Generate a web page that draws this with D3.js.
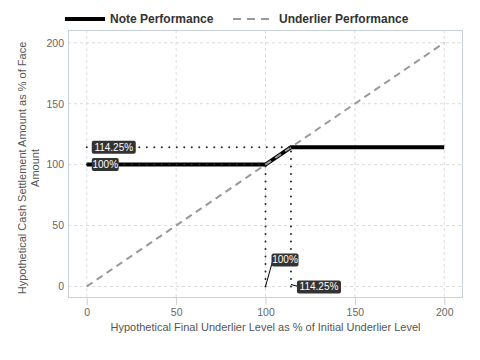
<!DOCTYPE html>
<html><head><meta charset="utf-8">
<script src="https://cdn.jsdelivr.net/npm/d3@7"></script>
<style>body{margin:0;background:#fff}svg{display:block}text{font-family:"Liberation Sans",Arial,sans-serif}</style>
</head><body><svg id="c" width="480" height="360"></svg>
<script>
// Data
const noteX = [0, 100, 114.25, 200];
const noteY = [100, 100, 114.25, 114.25];
const underX = [0, 200];
const underY = [0, 200];
const xTicks = [0, 50, 100, 150, 200];
const yTicks = [0, 50, 100, 150, 200];
const cap = 114.25;
const level = 100;
const seriesNames = ["Note Performance", "Underlier Performance"];

const svg = d3.select("#c");
const L = 68, R = 463, T = 30, B = 298;
const x = d3.scaleLinear().domain([-10.5, 210.5]).range([L, R]);
const y = d3.scaleLinear().domain([-9.5, 210.5]).range([B, T]);

// gridlines
const g = svg.append("g");
g.selectAll(".gx").data(xTicks).enter().append("line")
  .attr("x1", d => x(d)).attr("x2", d => x(d)).attr("y1", T).attr("y2", B)
  .attr("stroke", "#dcdcdc").attr("stroke-dasharray", "3,3").attr("stroke-width", 1);
g.selectAll(".gy").data(yTicks).enter().append("line")
  .attr("y1", d => y(d)).attr("y2", d => y(d)).attr("x1", L).attr("x2", R)
  .attr("stroke", "#dcdcdc").attr("stroke-dasharray", "3,3").attr("stroke-width", 1);

// axes
const xAxis = d3.axisBottom(x).tickValues(xTicks).tickSize(7).tickPadding(4);
const yAxis = d3.axisLeft(y).tickValues(yTicks).tickSize(0).tickPadding(4);
const gx = svg.append("g").attr("transform", `translate(0,${B})`).call(xAxis);
const gy = svg.append("g").attr("transform", `translate(${L},0)`).call(yAxis);
[gx, gy].forEach(a => {
  a.select(".domain").remove();
  a.selectAll("line").attr("stroke", "#c8d0d8");
  a.selectAll("text").attr("fill", "#666").style("font-size", "10.5px");
});

// border
svg.append("rect").attr("x", L + 0.5).attr("y", T + 0.5).attr("width", R - L - 1).attr("height", B - T - 1)
  .attr("fill", "none").attr("stroke", "#c8d0d8");

// Note line
const line = d3.line().x(d => x(d[0])).y(d => y(d[1]));
svg.append("path").datum(noteX.map((v, i) => [v, noteY[i]]))
  .attr("d", line).attr("fill", "none").attr("stroke", "#000").attr("stroke-width", 4);

// Underlier line
svg.append("path").datum(underX.map((v, i) => [v, underY[i]]))
  .attr("d", line).attr("fill", "none").attr("stroke", "#999").attr("stroke-width", 2)
  .attr("stroke-dasharray", "7,5");

// dotted reference lines
const dots = [
  [[0, cap], [cap, cap]],
  [[0, level], [level, level]],
  [[level, 0], [level, level]],
  [[cap, 0], [cap, cap]]
];
dots.forEach(seg => {
  svg.append("path").datum(seg).attr("d", line).attr("fill", "none")
    .attr("stroke", "#1c2a3a").attr("stroke-width", 2).attr("stroke-linecap", "round")
    .attr("stroke-dasharray", "0,7.5");
});

// labels
function label(txt, px, py, w) {
  const grp = svg.append("g");
  grp.append("rect").attr("x", px).attr("y", py).attr("width", w).attr("height", 13)
    .attr("rx", 2).attr("fill", "#333");
  grp.append("text").attr("x", px + w / 2).attr("y", py + 10).attr("text-anchor", "middle")
    .attr("fill", "#fff").style("font-size", "10px").text(txt);
}
// leader lines
svg.append("line").attr("x1", x(level)).attr("y1", y(0)).attr("x2", x(level) + 7).attr("y2", y(0) - 25)
  .attr("stroke", "#000").attr("stroke-width", 1);
svg.append("line").attr("x1", x(cap)).attr("y1", y(0) - 2).attr("x2", x(cap) + 7).attr("y2", y(0))
  .attr("stroke", "#000").attr("stroke-width", 1);

label(cap + "%", x(0) + 5, y(cap) - 6.5, 44);
label(level + "%", x(0) + 5, y(level) - 6.5, 27);
label(level + "%", x(level) + 6, y(0) - 33, 27);
label(cap + "%", x(cap) + 6, y(0) - 6, 44);

// axis titles
svg.append("text").attr("x", (L + R) / 2).attr("y", 331).attr("text-anchor", "middle")
  .attr("fill", "#555").style("font-size", "11px")
  .text("Hypothetical Final Underlier Level as % of Initial Underlier Level");
const yt = svg.append("text").attr("transform", `translate(26,${(T + B) / 2 + 4}) rotate(-90)`)
  .attr("text-anchor", "middle").attr("fill", "#555").style("font-size", "11px");
yt.append("tspan").attr("x", 0).attr("dy", 0).text("Hypothetical Cash Settlement Amount as % of Face");
yt.append("tspan").attr("x", 0).attr("dy", 13).text("Amount");

// legend
const lg = svg.append("g");
lg.append("line").attr("x1", 65).attr("x2", 105).attr("y1", 19).attr("y2", 19)
  .attr("stroke", "#000").attr("stroke-width", 4);
lg.append("text").attr("x", 110).attr("y", 23).style("font-size", "12px").style("font-weight", "bold")
  .attr("fill", "#333").text(seriesNames[0]);
lg.append("line").attr("x1", 233).attr("x2", 271).attr("y1", 19).attr("y2", 19)
  .attr("stroke", "#999").attr("stroke-width", 2).attr("stroke-dasharray", "8,6");
lg.append("text").attr("x", 279).attr("y", 23).style("font-size", "12px").style("font-weight", "bold")
  .attr("fill", "#333").text(seriesNames[1]);
</script></body></html>
